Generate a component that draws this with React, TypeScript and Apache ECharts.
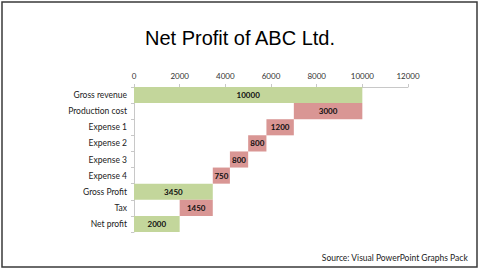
import React, { useEffect, useRef } from "react";
import * as echarts from "echarts";

const categories = [
  "Gross revenue",
  "Production cost",
  "Expense 1",
  "Expense 2",
  "Expense 3",
  "Expense 4",
  "Gross Profit",
  "Tax",
  "Net profit",
];
const baseValues = [0, 7000, 5800, 5000, 4200, 3450, 0, 2000, 0];
const barValues = [10000, 3000, 1200, 800, 800, 750, 3450, 1450, 2000];
const barKinds = ["total", "cost", "cost", "cost", "cost", "cost", "total", "cost", "total"];
const xTicks = [0, 2000, 4000, 6000, 8000, 10000, 12000];

const GREEN = "#c3d69b";
const RED = "#d99694";

export default function App() {
  const ref = useRef<HTMLDivElement>(null);
  useEffect(() => {
    if (!ref.current) return;
    const chart = echarts.init(ref.current, undefined, { renderer: "svg" });
    chart.setOption({
      animation: false,
      backgroundColor: "#ffffff",
      title: {
        text: "Net Profit of ABC Ltd.",
        left: "center",
        top: 23,
        textStyle: {
          fontFamily: "Liberation Sans",
          fontSize: 20,
          fontWeight: "normal",
          color: "#000000",
        },
      },
      grid: { left: 134, right: 72, top: 87, bottom: 38, containLabel: false },
      xAxis: {
        type: "value",
        position: "top",
        min: xTicks[0],
        max: xTicks[xTicks.length - 1],
        interval: 2000,
        axisLine: { show: true, lineStyle: { color: "#c8c8c8" } },
        axisTick: { show: true, length: 3, lineStyle: { color: "#c8c8c8" } },
        splitLine: { show: false },
        axisLabel: {
          fontFamily: "Lato",
          fontSize: 8,
          color: "#333",
          margin: 7,
          formatter: (v: number) => String(v),
        },
      },
      yAxis: {
        type: "category",
        data: categories,
        inverse: true,
        axisLine: { show: true, lineStyle: { color: "#c8c8c8" } },
        axisTick: { show: true, length: 3, lineStyle: { color: "#c8c8c8" } },
        axisLabel: {
          fontFamily: "Lato",
          fontSize: 8.5,
          color: "#222",
          margin: 7,
        },
      },
      series: [
        {
          type: "bar",
          stack: "w",
          data: baseValues,
          barCategoryGap: "0%",
          itemStyle: { color: "transparent" },
          silent: true,
        },
        {
          type: "bar",
          stack: "w",
          barCategoryGap: "0%",
          data: barValues.map((v, i) => ({
            value: v,
            itemStyle: { color: barKinds[i] === "total" ? GREEN : RED },
          })),
          label: {
            show: true,
            position: "inside",
            fontFamily: "Lato",
            fontWeight: "bold",
            fontSize: 8,
            color: "#111",
          },
        },
      ],
      graphic: [
        {
          type: "rect",
          shape: { x: 2, y: 2, width: 475, height: 265 },
          style: { fill: "none", stroke: "#3a3a3a", lineWidth: 1.5 },
          silent: true,
        },
        {
          type: "text",
          right: 12,
          top: 253,
          style: {
            text: "Source: Visual PowerPoint Graphs Pack",
            fontFamily: "Lato",
            fontSize: 8.5,
            fill: "#222",
          },
        },
      ],
    });
    return () => chart.dispose();
  }, []);
  return (
    <div
      ref={ref}
      style={{ position: "fixed", left: 0, top: 0, width: 480, height: 270 }}
    />
  );
}
